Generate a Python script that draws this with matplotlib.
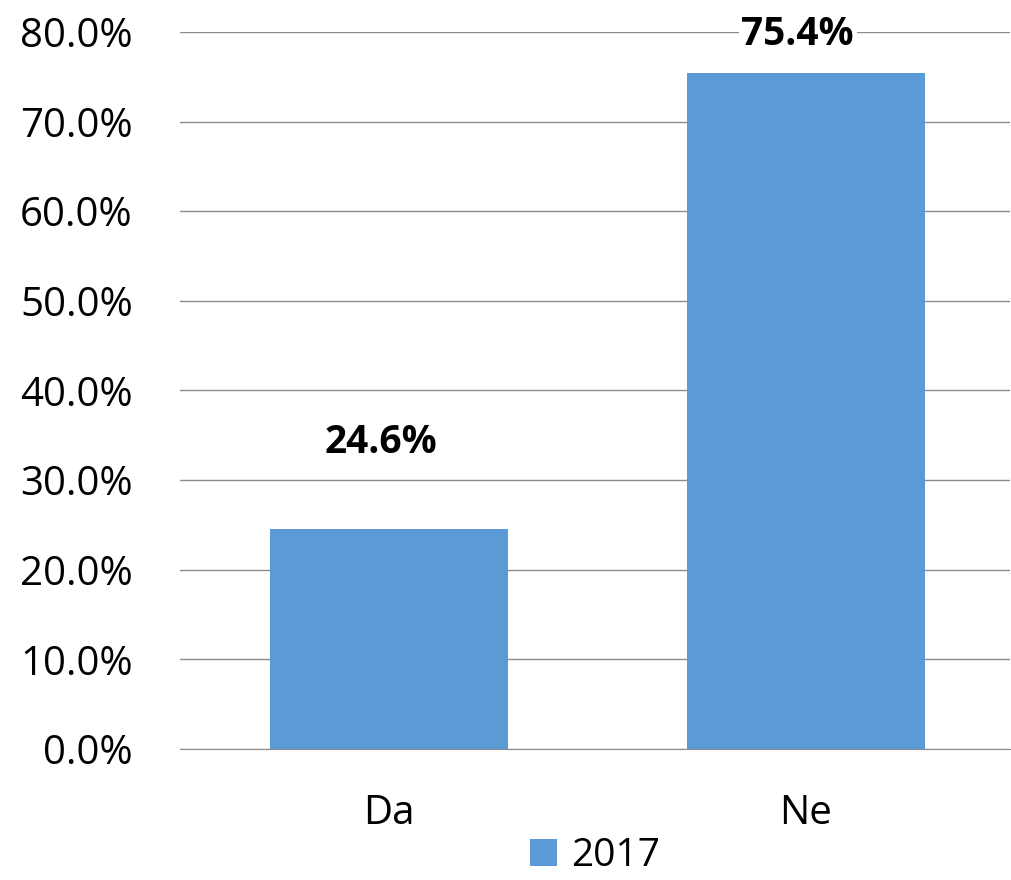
import numpy as np
import matplotlib.pyplot as plt

plt.rcParams['font.family'] = ['Open Sans', 'DejaVu Sans']

categories = ["Da", "Ne"]
values = [24.6, 75.4]
series_name = "2017"

fig = plt.figure(figsize=(10.12, 8.8), dpi=100)
ax = fig.add_axes([180 / 1012, 1 - 749 / 880, 830 / 1012, 717 / 880])

x = np.arange(len(categories))
ax.bar(x, values, width=0.571, color="#5B9BD5", label=series_name, zorder=3)

# label placement (Excel put them at different heights)
label_y = [34.2, 79.7]
for xi, v, ly in zip(x, values, label_y):
    ax.text(xi - 0.02, ly, f"{v:.1f}%", ha="center", va="center", fontsize=28,
            fontweight="bold", zorder=4,
            bbox=dict(facecolor="white", edgecolor="none", pad=2))

ax.set_xlim(-0.501, 1.489)
ax.set_ylim(0, 80)
ax.set_yticks(np.arange(0, 81, 10))
ax.set_yticklabels([f"{t:.1f}%" for t in np.arange(0, 81, 10)])
ax.set_xticks(x)
ax.set_xticklabels(categories)
ax.tick_params(axis="both", length=0, labelsize=29)
ax.tick_params(axis="y", pad=34)
ax.tick_params(axis="x", pad=32)

ax.grid(axis="y", color="#8c8c8c", linewidth=1, zorder=0)
for s in ["top", "right", "left"]:
    ax.spines[s].set_visible(False)
ax.spines["bottom"].set_color("#8c8c8c")

ax.legend(loc="center", bbox_to_anchor=(595 / 1012, 24 / 880),
          bbox_transform=fig.transFigure, frameon=False, borderpad=0.1,
          fontsize=28, handlelength=0.7, handleheight=0.7, handletextpad=0.35)

plt.savefig("out.png", dpi=100)
